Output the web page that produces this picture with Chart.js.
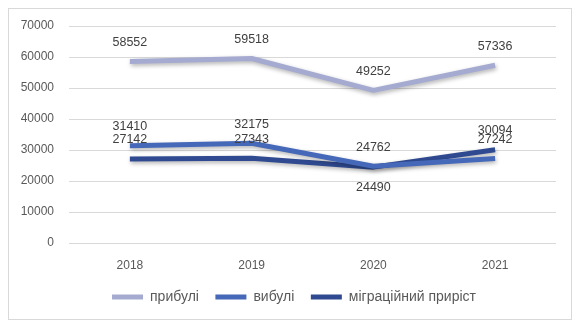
<!DOCTYPE html>
<html lang="uk">
<head>
    <meta charset="UTF-8">
    <title>Міграція населення</title>
    <script src="https://cdn.jsdelivr.net/npm/chart.js"></script>
    <style>
        html, body { margin: 0; padding: 0; background: #fff; }
        #wrap { width: 580px; height: 329px; }
    </style>
</head>
<body>
    <div id="wrap"><canvas id="migrationChart" width="580" height="329"></canvas></div>

    <script>
        // data
        const years = ['2018', '2019', '2020', '2021'];
        const arrived = [58552, 59518, 49252, 57336];
        const departed = [31410, 32175, 24762, 27242];
        const netGrowth = [27142, 27343, 24490, 30094];
        const yTicks = [0, 10000, 20000, 30000, 40000, 50000, 60000, 70000];

        // where each value label sits relative to its point (1 = above, -1 = below)
        const labelSide = [
            [1, 1, 1, 1],
            [1, 1, 1, 1],
            [1, 1, -1, 1]
        ];

        const font = "'Liberation Sans', Arial, sans-serif";

        // soft shadow under the lines, like the office chart
        const lineShadow = {
            id: 'lineShadow',
            beforeDatasetsDraw(chart) {
                const c = chart.ctx;
                c.save();
                c.shadowColor = 'rgba(0,0,0,0.3)';
                c.shadowBlur = 4;
                c.shadowOffsetX = 1;
                c.shadowOffsetY = 2;
            },
            afterDatasetsDraw(chart) {
                chart.ctx.restore();
            }
        };

        // value labels above / below points
        const valueLabels = {
            id: 'valueLabels',
            afterDatasetsDraw(chart) {
                const c = chart.ctx;
                c.save();
                c.font = '12.5px ' + font;
                c.fillStyle = '#404040';
                c.textAlign = 'center';
                c.textBaseline = 'middle';
                chart.data.datasets.forEach((ds, i) => {
                    const meta = chart.getDatasetMeta(i);
                    meta.data.forEach((pt, j) => {
                        const off = labelSide[i][j] > 0 ? -19 : 20;
                        c.fillText(String(ds.data[j]), pt.x, pt.y + off);
                    });
                });
                c.restore();
            }
        };

        // frame round the whole chart; legend nudged like the original
        const frame = {
            id: 'frame',
            afterLayout(chart) {
                const lg = chart.legend;
                lg.left += 16;
                lg.right += 16;
                lg.top -= 14;
                lg.bottom -= 14;
            },
            afterDraw(chart) {
                const c = chart.ctx;
                c.save();
                c.strokeStyle = '#d9d9d9';
                c.lineWidth = 1;
                c.strokeRect(8.5, 8.5, 563, 311);
                c.restore();
            }
        };

        const colors = ['#a5aad0', '#4568b8', '#2f4a90'];

        const ctx = document.getElementById('migrationChart').getContext('2d');
        const migrationChart = new Chart(ctx, {
            type: 'line',
            data: {
                labels: years,
                datasets: [
                    { label: 'прибулі', data: arrived },
                    { label: 'вибулі', data: departed },
                    { label: 'міграційний приріст', data: netGrowth }
                ].map((ds, i) => Object.assign(ds, {
                    borderColor: colors[i],
                    backgroundColor: colors[i],
                    borderWidth: 5,
                    pointRadius: 0,
                    pointHoverRadius: 0,
                    tension: 0,
                    borderJoinStyle: 'round',
                    fill: false
                }))
            },
            options: {
                responsive: false,
                animation: false,
                layout: { padding: { left: 0, right: 24, top: 26, bottom: 1 } },
                plugins: {
                    tooltip: { enabled: false },
                    legend: {
                        position: 'bottom',
                        labels: {
                            boxWidth: 31,
                            boxHeight: 5,
                            padding: 16.5,
                            color: '#595959',
                            font: { family: font, size: 14 },
                            generateLabels(chart) {
                                return chart.data.datasets.map((ds, i) => ({
                                    text: ds.label,
                                    fillStyle: colors[i],
                                    strokeStyle: colors[i],
                                    lineWidth: 0,
                                    fontColor: '#595959',
                                    datasetIndex: i
                                }));
                            }
                        }
                    }
                },
                scales: {
                    x: {
                        offset: true,
                        grid: { display: false, drawTicks: false },
                        border: { display: false },
                        ticks: { color: '#595959', font: { family: font, size: 12 }, padding: 15 }
                    },
                    y: {
                        min: 0,
                        max: 70000,
                        afterBuildTicks(scale) {
                            scale.ticks = yTicks.map(v => ({ value: v }));
                        },
                        afterFit(scale) { scale.width = 69; },
                        grid: { color: '#d9d9d9', drawTicks: false },
                        border: { display: false },
                        ticks: {
                            color: '#595959',
                            font: { family: font, size: 12 },
                            padding: 15,
                            callback: v => String(v)
                        }
                    }
                }
            },
            plugins: [lineShadow, valueLabels, frame]
        });
    </script>
</body>
</html>
